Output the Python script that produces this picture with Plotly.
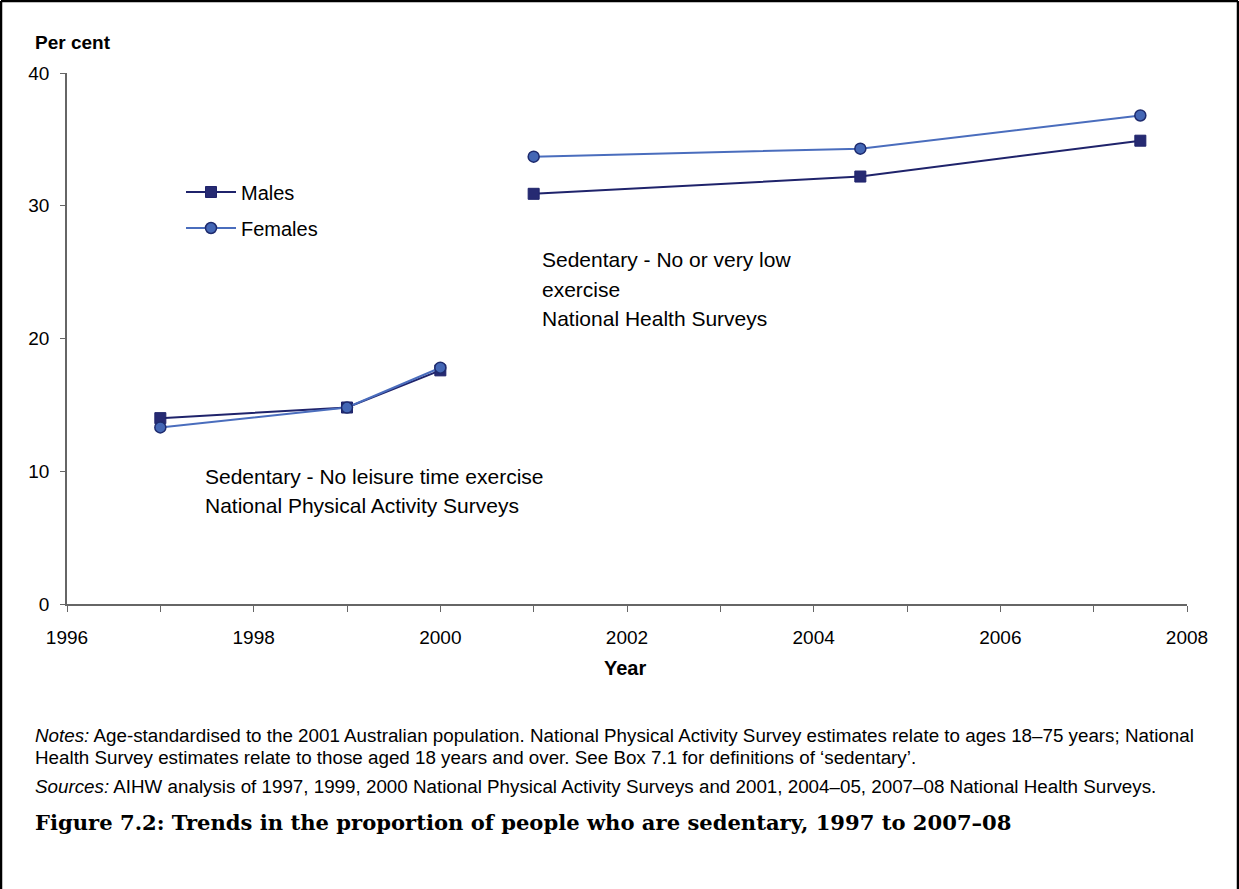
import plotly.graph_objects as go

# Data
years = [1997, 1999, 2000, None, 2001, 2004.5, 2007.5]
males = [14.0, 14.8, 17.6, None, 30.9, 32.2, 34.9]
females = [13.3, 14.8, 17.8, None, 33.7, 34.3, 36.8]

W, H = 1239, 889
L, R, T, B = 67, 1187, 73, 604


def px(x):
    return (x - L) / (R - L)


def py(y):
    return (B - y) / (B - T)


SANS = "Liberation Sans, Arial, sans-serif"
SERIF = "DejaVu Serif, Liberation Serif, serif"

fig = go.Figure()
fig.add_trace(go.Scatter(
    x=years, y=males, name="Males", mode="lines+markers",
    line=dict(color="#1f236b", width=2),
    marker=dict(symbol="square", size=11, color="#262a72", line=dict(color="#1f236b", width=1)),
    connectgaps=False, legend="legend", showlegend=True,
))
fig.add_trace(go.Scatter(
    x=years, y=females, name="Females", mode="lines+markers",
    line=dict(color="#4a6dbd", width=2),
    marker=dict(symbol="circle", size=11, color="#4467b5", line=dict(color="#1e2b6e", width=1.5)),
    connectgaps=False, legend="legend2", showlegend=True,
))

fig.update_layout(
    width=W, height=H,
    margin=dict(l=L, r=W - R, t=T, b=H - B),
    paper_bgcolor="white", plot_bgcolor="white",
    showlegend=True,
    font=dict(family=SANS, size=19, color="black"),
    legend=dict(x=px(181), y=py(192), xanchor="left", yanchor="middle", itemwidth=50,
                bgcolor="rgba(0,0,0,0)", font=dict(size=20), visible=True),
    legend2=dict(x=px(181), y=py(228), xanchor="left", yanchor="middle", itemwidth=50,
                 bgcolor="rgba(0,0,0,0)", font=dict(size=20), visible=True),
    xaxis=dict(range=[1996, 2008], dtick=2, tick0=1996, showgrid=False, zeroline=False,
               showline=True, linecolor="#666666", linewidth=1.5,
               ticks="outside", ticklen=6, tickcolor="#666666",
               minor=dict(dtick=1, ticks="outside", ticklen=6, tickcolor="#666666"),
               ticklabelstandoff=9, tickfont=dict(size=19)),
    yaxis=dict(range=[0, 40], dtick=10, showgrid=False, zeroline=False,
               showline=True, linecolor="#666666", linewidth=1.5,
               ticks="outside", ticklen=5, tickcolor="#666666",
               ticklabelstandoff=7, tickfont=dict(size=19)),
)

ann = []


def text(x, y, s, size=19, anchor="left", family=SANS, color="black"):
    ann.append(dict(x=px(x), y=py(y), xref="paper", yref="paper", text=s,
                    showarrow=False, xanchor=anchor, yanchor="middle",
                    font=dict(family=family, size=size, color=color)))


text(33, 42, "<b>Per cent</b>", size=19)
text(625, 668, "<b>Year</b>", size=20, anchor="center")
text(540, 259, "Sedentary - No or very low", size=21)
text(540, 289, "exercise", size=21)
text(540, 318, "National Health Surveys", size=21)
text(203, 476, "Sedentary - No leisure time exercise", size=21)
text(203, 505, "National Physical Activity Surveys", size=21)
text(33, 735, "<i>Notes:</i> Age-standardised to the 2001 Australian population. National Physical Activity Survey estimates relate to ages 18–75 years; National", size=18.8)
text(33, 757, "Health Survey estimates relate to those aged 18 years and over. See Box 7.1 for definitions of ‘sedentary’.", size=18.8)
text(33, 786, "<i>Sources:</i> AIHW analysis of 1997, 1999, 2000 National Physical Activity Surveys and 2001, 2004–05, 2007–08 National Health Surveys.", size=18.8)
text(33, 822, "<b>Figure 7.2: Trends in the proportion of people who are sedentary, 1997 to 2007–08</b>", size=21.1, family=SERIF)
fig.update_layout(annotations=ann)

# Outer frame (top, left, right)
shapes = []
for x0, y0, x1, y1 in [(1, 889, 1, 1), (1, 1, 1238, 1), (1238, 1, 1238, 889)]:
    shapes.append(dict(type="line", xref="paper", yref="paper",
                       x0=px(x0), y0=py(y0), x1=px(x1), y1=py(y1),
                       line=dict(color="black", width=2.5)))
fig.update_layout(shapes=shapes)

fig.write_html("out.html", config={"displayModeBar": False},
               post_script="document.body.style.margin='0';document.body.style.overflow='hidden';")
